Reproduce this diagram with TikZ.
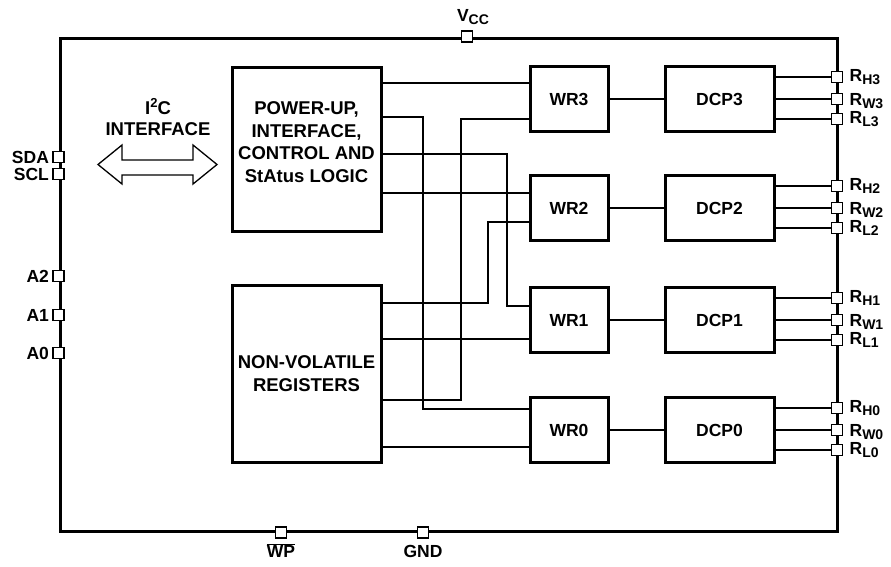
\documentclass[tikz,border=0pt]{standalone}
\usepackage{fontspec}
\setmainfont{Liberation Sans}
\usetikzlibrary{positioning,calc}

\newcommand{\subtxt}[2]{#1\raisebox{-0.35ex}{\fontsize{14}{14}\selectfont #2}}
\tikzset{
  blk/.style={draw,line width=3pt,align=center,font=\bfseries\fontsize{18.5}{22.5}\selectfont},
  wrbox/.style={blk,minimum width=78pt,minimum height=65pt,font=\bfseries\fontsize{17.5}{20}\selectfont},
  dcpbox/.style={blk,minimum width=109pt,minimum height=65pt,font=\bfseries\fontsize{17.5}{20}\selectfont},
  pin/.style={draw,fill=white,line width=1.8pt,minimum size=11pt,inner sep=0pt},
  pinlab/.style={font=\bfseries\fontsize{17.5}{17.5}\selectfont,inner sep=2pt},
  wire/.style={line width=2pt},
}

\begin{document}
\begin{tikzpicture}[x=1pt,y=-1pt]
\useasboundingbox (0,0) rectangle (891,566);
% chip outline
\node[draw,line width=3pt,minimum width=777pt,minimum height=493pt,inner sep=0pt] (chip) at (448.5,284.5) {};
% logic blocks
\node[blk,minimum width=149pt,minimum height=164pt] (ctl) at (306.5,149) {};
\node[align=center,font=\bfseries\fontsize{18.5}{22.5}\selectfont] (ctltxt) at ($(ctl)+(0,-7)$) {POWER-UP,\\INTERFACE,\\CONTROL AND\\StAtus LOGIC};
\node[blk,minimum width=149pt,minimum height=177pt] (nv) at (306.5,373.5) {NON-VOLATILE\\REGISTERS};
\foreach \i/\y in {3/99,2/208,1/320,0/430} {
  \node[wrbox] (wr\i) at (569,\y) {WR\i};
  \node[dcpbox,right=54pt of wr\i] (dcp\i) {DCP\i};
  \draw[wire] (wr\i.east) -- (dcp\i.west);
  % resistor pins
  \node[pin] (rh\i) at (837,\y-22) {};
  \node[pin] (rw\i) at (837,\y) {};
  \node[pin] (rl\i) at (837,\y+20) {};
  \node[pinlab,right=4pt of rh\i] (lrh\i) {\subtxt{R}{H\i}};
  \node[pinlab,right=4pt of rw\i,yshift=-2pt] (lrw\i) {\subtxt{R}{W\i}};
  \node[pinlab,right=4pt of rl\i] (lrl\i) {\subtxt{R}{L\i}};
  \foreach \p in {rh,rw,rl} \draw[wire] (dcp\i.east |- \p\i) -- (\p\i);
}
% buses from control / registers to wiper registers
\draw[wire] (ctl.east |- 0,83) -- (wr3.west |- 0,83);
\draw[wire] (ctl.east |- 0,117) -| (423,409) -- (wr0.west |- 0,409);
\draw[wire] (nv.east |- 0,400) -| (461,119) -- (wr3.west |- 0,119);
\draw[wire] (ctl.east |- 0,154) -| (507,306) -- (wr1.west |- 0,306);
\draw[wire] (ctl.east |- 0,193) -- (wr2.west |- 0,193);
\draw[wire] (nv.east |- 0,303) -| (488,222) -- (wr2.west |- 0,222);
\draw[wire] (nv.east |- 0,339) -- (wr1.west |- 0,339);
\draw[wire] (nv.east |- 0,447) -- (wr0.west |- 0,447);
% left pins
\foreach \n/\lab/\y in {sda/SDA/157,scl/SCL/174,atwo/A2/276,aone/A1/315,azero/A0/353} {
  \node[pin] (\n) at (chip.west |- 0,\y) {};
  \node[pinlab,left=1pt of \n] (l\n) {\lab};
}
% supply and write protect pins
\node[pin] (vcc) at (chip.north -| 467,0) {};
\node[pinlab,above=3pt of vcc,xshift=6pt] (lvcc) {\subtxt{V}{CC}};
\node[pin] (wp) at (chip.south -| 281,0) {};
\node[pinlab,below=2pt of wp] (lwp) {$\overline{\hbox{WP}}$};
\node[pin] (gnd) at (chip.south -| 423,0) {};
\node[pinlab,below=4pt of gnd] (lgnd) {GND};
% I2C bus arrow
\node[align=center,font=\bfseries\fontsize{18.5}{21}\selectfont] (i2c) at (158,117) {I\raisebox{0.7ex}{\fontsize{13}{13}\selectfont 2}C\\INTERFACE};
\draw[line width=1.3pt] (98,164.5) -- (122,145) -- (122,160) -- (193,160) -- (193,145) -- (217,164.5)
  -- (193,184) -- (193,175) -- (122,175) -- (122,184) -- cycle;
\end{tikzpicture}
\end{document}
